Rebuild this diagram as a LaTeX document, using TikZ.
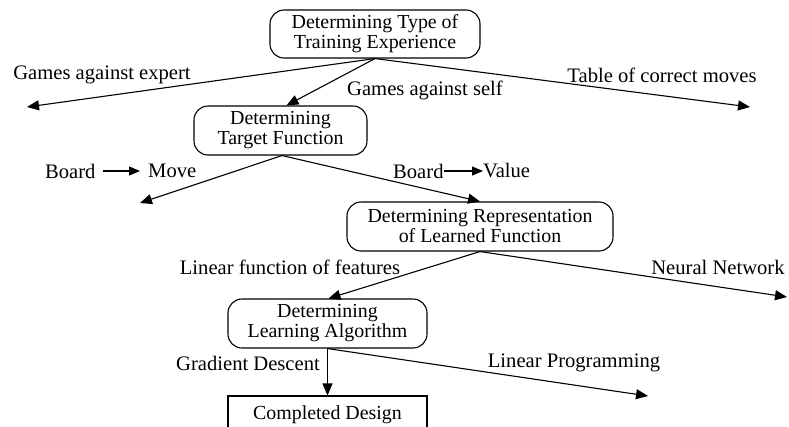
\documentclass[tikz,border=0pt]{standalone}
\usepackage{fontspec}
\setmainfont{Liberation Serif}
\usetikzlibrary{arrows.meta}
\begin{document}
\begin{tikzpicture}[x=1pt,y=-1pt,
  boxfont/.style={font=\fontsize{19.9}{20}\selectfont},
  labfont/.style={font=\fontsize{20.6}{22}\selectfont},
  stage/.style={draw, line width=1.1pt, rounded corners=14pt, boxfont, align=center, inner sep=0pt},
  final/.style={draw, line width=1.1pt, boxfont, align=center, inner sep=0pt},
  lab/.style={labfont, inner sep=0pt},
  conn/.style={line width=1.1pt, -{Triangle[length=12pt,width=10pt]}},
  small/.style={line width=1.1pt, -{Triangle[length=11pt,width=9pt]}}
]
\useasboundingbox (0,0) rectangle (789,426);
\fill[white] (0,0) rectangle (789,426);

\node[stage, minimum width=210pt, minimum height=48pt] (b1) at (375,34) {Determining Type of\\Training Experience};
\node[stage, minimum width=173pt, minimum height=49pt] (b2) at (280.5,130.5) {Determining\\Target Function};
\node[stage, minimum width=266pt, minimum height=49pt] (b3) at (480,226.5) {Determining Representation\\of Learned Function};
\node[stage, minimum width=199pt, minimum height=49pt] (b4) at (327.5,323.5) {Determining\\Learning Algorithm};
\node[final, minimum width=199pt, minimum height=38pt] (b5) at (327.5,415) {Completed Design};

\coordinate (e1) at (27,107);
\coordinate (e2) at (750,107);
\coordinate (e3) at (140,203);
\coordinate (e4) at (787,297);
\coordinate (e5) at (648,396);

\draw[conn] (b1.south) -- (e1);
\draw[conn] (b1.south) -- ([xshift=6pt]b2.north);
\draw[conn] (b1.south) -- (e2);
\draw[conn] ([xshift=1.5pt]b2.south) -- (e3);
\draw[conn] ([xshift=1.5pt]b2.south) -- (b3.north);
\draw[conn] (b3.south) -- (e4);
\draw[conn] (b3.south) -- ([xshift=1pt]b4.north);
\draw[conn] (b4.south) -- (b5.north);
\draw[conn] (b4.south) -- (e5);

\node[lab] (l1) at (102,75) {Games against expert};
\node[lab] (l2) at (425,90) {Games against self};
\node[lab] (l3) at (662,75) {Table of correct moves};
\node[lab, anchor=west] (bm1) at (45,171) {Board};
\node[lab, anchor=west] (bm2) at (148,171) {Move};
\draw[small] ([xshift=7pt]bm1.east) -- ([xshift=-8pt]bm2.west);
\node[lab, anchor=west] (bv1) at (393,171) {Board};
\node[lab, anchor=west] (bv2) at (483,171) {Value};
\draw[small] (bv1.east) -- (bv2.west);
\node[lab] (l4) at (290,267) {Linear function of features};
\node[lab] (l5) at (718,267) {Neural Network};
\node[lab] (l6) at (248,363) {Gradient Descent};
\node[lab] (l7) at (574,363) {Linear Programming};
\end{tikzpicture}
\end{document}
